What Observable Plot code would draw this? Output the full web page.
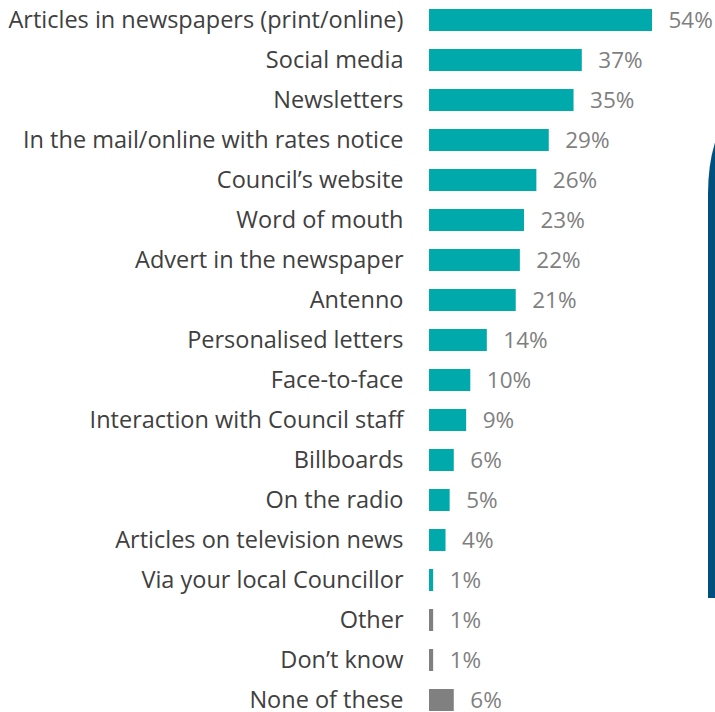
<!DOCTYPE html>
<html><head><meta charset="utf-8">
<script src="https://cdn.jsdelivr.net/npm/d3@7"></script>
<script src="https://cdn.jsdelivr.net/npm/@observablehq/plot@0.6"></script>
<style>
body{margin:0;background:#fff;}
#wrap{position:relative;width:715px;height:712px;overflow:hidden;}
#deco{position:absolute;left:708px;top:124px;width:60px;height:474px;background:#00507F;border-top-left-radius:22px 70px;}
#chart{position:absolute;left:0;top:0;}
</style></head><body>
<div id="wrap"><div id="chart"></div><div id="deco"></div></div>
<script>
const categories = [
  "Articles in newspapers (print/online)",
  "Social media",
  "Newsletters",
  "In the mail/online with rates notice",
  "Council’s website",
  "Word of mouth",
  "Advert in the newspaper",
  "Antenno",
  "Personalised letters",
  "Face-to-face",
  "Interaction with Council staff",
  "Billboards",
  "On the radio",
  "Articles on television news",
  "Via your local Councillor",
  "Other",
  "Don’t know",
  "None of these"
];
const values = [54, 37, 35, 29, 26, 23, 22, 21, 14, 10, 9, 6, 5, 4, 1, 1, 1, 6];
const groups = [
  "source","source","source","source","source","source","source","source",
  "source","source","source","source","source","source","source",
  "other","other","other"
];
const data = categories.map((c, i) => ({category: c, value: values[i], group: groups[i]}));

const FONT = "Open Sans";

const chart = Plot.plot({
  width: 715,
  height: 712,
  marginLeft: 429,
  marginRight: 63,
  marginTop: 0,
  marginBottom: 0,
  style: {fontFamily: FONT, background: "transparent", overflow: "visible"},
  x: {domain: [0, 54], axis: null},
  y: {domain: categories, range: [0, 720], paddingInner: 0.45, paddingOuter: 0.225, label: null},
  color: {domain: ["source", "other"], range: ["#00A9AC", "#808080"]},
  marks: [
    Plot.barX(data, {x: "value", y: "category", fill: "group"}),
    Plot.text(data, {x: "value", y: "category", text: d => d.value + "%", dx: 16, textAnchor: "start", fill: "#7F7F7F", fontSize: 22.5}),
    Plot.axisY({tickSize: 0, tickPadding: 26, fontSize: 23.5, color: "#404040", label: null})
  ]
});
document.getElementById("chart").appendChild(chart);
</script>
</body></html>
